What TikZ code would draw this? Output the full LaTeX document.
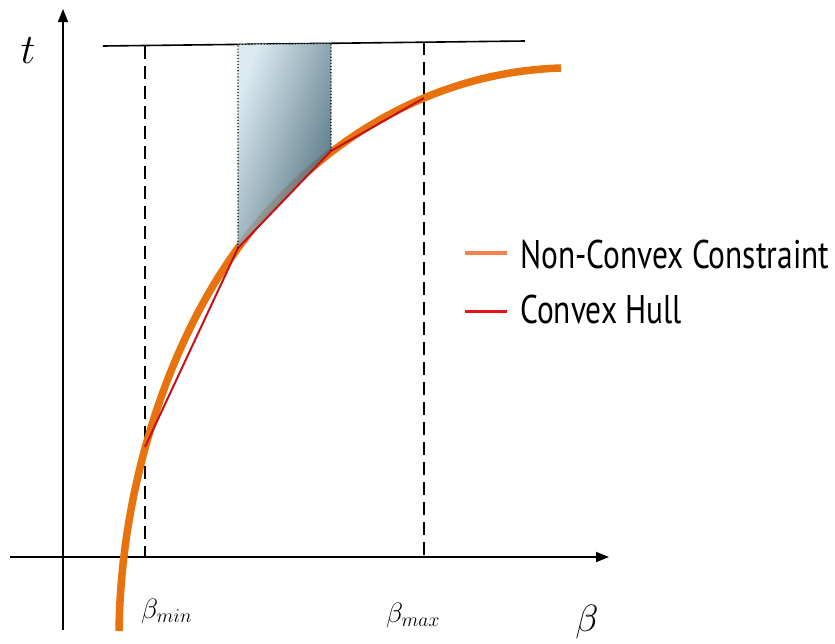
\RequirePackage{fix-cm}
\documentclass[tikz,border=0pt]{standalone}
\usepackage{fontspec}
\newfontfamily\legfont[FakeStretch=0.785]{PT Sans}
\usetikzlibrary{arrows.meta}
\definecolor{curveor}{HTML}{E8730E}
\definecolor{hullred}{HTML}{C8101A}
\definecolor{legor}{HTML}{F5824A}
\definecolor{legred}{HTML}{E2131B}
\definecolor{shlight}{HTML}{D6E8F0}
\definecolor{shdark}{HTML}{34586A}
\begin{document}
\begin{tikzpicture}[x=1pt,y=-1pt,
  axis/.style={line width=1.8pt, -{Triangle[length=13pt,width=10pt]}},
  guide/.style={line width=1.8pt, dash pattern=on 13pt off 7pt},
  curvestyle/.style={curveor, line width=7.5pt},
  hull/.style={hullred, line width=2pt},
  lbl/.style={inner sep=0pt},
  legtext/.style={inner sep=0pt, anchor=base west, font=\legfont\fontsize{40pt}{40pt}\selectfont},
]
\useasboundingbox (0,0) rectangle (835,643);
% coordinates
\coordinate (yb) at (63,630); \coordinate (yt) at (63,9);
\coordinate (xl) at (10,557); \coordinate (xr) at (609,557);
\coordinate (tl) at (103,46); \coordinate (tr) at (525,41);
\coordinate (c0) at (119,631); \coordinate (h2) at (238,248); \coordinate (c3) at (561,68);
\coordinate (h1) at (145,447); \coordinate (h3) at (331,151); \coordinate (h4) at (424,98);
\coordinate (d1t) at (145,45.5); \coordinate (d1b) at (145,557);
\coordinate (d2t) at (424,42.2); \coordinate (d2b) at (424,557);
\coordinate (s1) at (238,44.4); \coordinate (s2) at (331,43.3);
% axes and guides
\draw[axis] (yb) -- (yt);
\draw[axis] (xl) -- (xr);
\draw[line width=1.6pt] (tl) -- (tr);
\draw[guide] (d1t) -- (d1b);
\draw[guide] (d2t) -- (d2b);
% non-convex curve
\draw[curvestyle] (c0) .. controls (121,480) and (172,338) .. (h2)
  .. controls (315,143) and (430,72) .. (c3);
% shaded region
\shade[left color=shlight, right color=shdark, shading angle=70, fill opacity=0.85]
  (s1) -- (s2) -- (h3) -- (h2) -- cycle;
% convex hull
\draw[hull] (h1) -- (h2) -- (h3) -- (h4);
\draw[dotted, line width=1.1pt] (h2) -- (s1) -- (s2) -- (h3);
% labels
\node[lbl, font=\fontsize{42pt}{42pt}\selectfont] (tlab) at (28,51) {$t$};
\node[lbl, font=\fontsize{38pt}{38pt}\selectfont] (blab) at (587,622) {$\beta$};
\node[lbl, anchor=west, font=\fontsize{28pt}{28pt}\selectfont] (bmin) at (141,611) {$\beta_{min}$};
\node[lbl, anchor=west, font=\fontsize{28pt}{28pt}\selectfont] (bmax) at (386,615) {$\beta_{max}$};
% legend
\coordinate (lo1) at (465,253); \coordinate (lo2) at (507,253);
\coordinate (lr1) at (465,311); \coordinate (lr2) at (507,311);
\draw[legor, line width=4.5pt] (lo1) -- (lo2);
\draw[legred, line width=3pt] (lr1) -- (lr2);
\node[legtext] (leg1) at (520,268.5) {Non-Convex Constraint};
\node[legtext] (leg2) at (520,323) {Convex Hull};
\end{tikzpicture}
\end{document}
